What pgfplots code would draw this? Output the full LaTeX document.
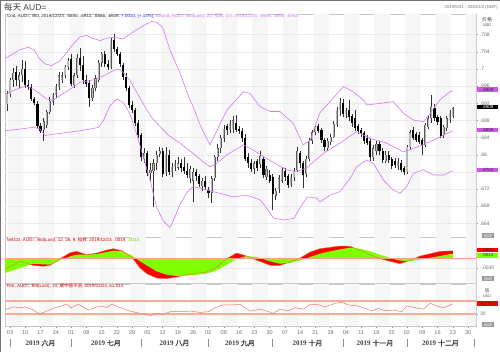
\documentclass[border=0pt]{standalone}
\usepackage{fontspec}
\setmainfont{Liberation Sans}
\newfontfamily\cjk{Noto Sans CJK SC}
\newfontfamily\cjkb[FakeBold=1.5]{Noto Sans CJK SC}
\newfontfamily\serif{Liberation Serif}
\usepackage{pgfplots}
\usepackage{pgfplotstable}
\pgfplotsset{compat=1.18}

\definecolor{bbc}{RGB}{214,120,250}
\definecolor{bbbox}{RGB}{210,80,240}
\definecolor{upg}{RGB}{185,185,185}
\definecolor{mred}{RGB}{255,0,0}
\definecolor{mgreen}{RGB}{128,255,0}
\definecolor{morange}{RGB}{225,110,60}
\definecolor{zeroc}{RGB}{250,160,140}
\definecolor{rsil}{RGB}{240,120,100}
\definecolor{rsih}{RGB}{255,170,150}
\definecolor{bandg}{RGB}{246,246,246}
\definecolor{gridg}{RGB}{234,234,234}
\definecolor{txtg}{RGB}{110,110,110}

% alternate two-week background bands (x in trading-day index, f = 0 bottom / 1 top)
\pgfplotstableread{
x f
-0.6 0
4.4 0
4.4 1
-0.6 1
nan nan
9.4 0
14.4 0
14.4 1
9.4 1
nan nan
19.4 0
24.4 0
24.4 1
19.4 1
nan nan
29.4 0
34.4 0
34.4 1
29.4 1
nan nan
39.4 0
44.4 0
44.4 1
39.4 1
nan nan
49.4 0
54.4 0
54.4 1
49.4 1
nan nan
59.4 0
64.4 0
64.4 1
59.4 1
nan nan
69.4 0
74.4 0
74.4 1
69.4 1
nan nan
79.4 0
84.4 0
84.4 1
79.4 1
nan nan
89.4 0
94.4 0
94.4 1
89.4 1
nan nan
99.4 0
104.4 0
104.4 1
99.4 1
nan nan
109.4 0
114.4 0
114.4 1
109.4 1
nan nan
119.4 0
124.4 0
124.4 1
119.4 1
nan nan
129.4 0
134.4 0
134.4 1
129.4 1
nan nan
139.4 0
144.4 0
144.4 1
139.4 1
nan nan
149.4 0
152.6 0
152.6 1
149.4 1
}\bands

\pgfplotstableread{
t o h l c
-1 .6918 .6948 .6902 .6942
0 .6942 .6980 .6935 .6975
1 .6975 .7002 .6958 .6990
2 .6992 .7006 .6960 .6975
3 .6975 .6992 .6955 .6985
4 .6985 .7021 .6970 .7000
5 .7000 .7018 .6955 .6962
6 .6962 .6975 .6950 .6958
7 .6958 .6965 .6925 .6930
8 .6930 .6935 .6915 .6920
9 .6918 .6925 .6862 .6868
10 .6868 .6875 .6850 .6855
11 .6858 .6885 .6832 .6878
12 .6870 .6905 .6862 .6900
13 .6900 .6935 .6895 .6925
14 .6922 .6945 .6915 .6940
15 .6940 .6965 .6932 .6960
16 .6958 .6992 .6950 .6985
17 .6975 .6992 .6968 .6985
18 .6985 .7010 .6978 .7005
19 .7005 .7025 .6998 .7018
20 .7023 .7035 .6960 .6965
21 .6962 .6990 .6955 .6985
22 .6985 .7035 .6980 .7025
23 .7025 .7048 .6995 .7010
24 .7010 .7030 .6965 .6975
25 .6975 .6985 .6958 .6965
26 .6968 .6975 .6912 .6932
27 .6932 .6962 .6925 .6955
28 .6955 .6985 .6948 .6978
29 .6975 .7022 .6970 .7015
30 .7015 .7040 .7005 .7035
31 .7035 .7042 .7005 .7012
32 .7012 .7020 .6998 .7005
33 .7005 .7072 .7000 .7066
34 .7068 .7082 .7040 .7047
35 .7047 .7052 .7030 .7035
36 .7035 .7040 .7005 .7012
37 .7010 .7015 .6975 .6982
38 .6982 .6990 .6948 .6955
39 .6955 .6960 .6908 .6915
40 .6915 .6925 .6898 .6905
41 .6905 .6910 .6868 .6875
42 .6875 .6882 .6838 .6845
43 .6845 .6850 .6785 .6795
44 .6790 .6815 .6780 .6805
45 .6805 .6810 .6750 .6758
46 .6758 .6780 .6740 .6765
47 .6762 .6790 .6678 .6780
48 .6780 .6810 .6765 .6800
49 .6802 .6818 .6795 .6810
50 .6808 .6815 .6748 .6755
51 .6757 .6818 .6750 .6800
52 .6800 .6812 .6752 .6760
53 .6760 .6782 .6748 .6772
54 .6772 .6788 .6762 .6778
55 .6770 .6795 .6765 .6780
56 .6780 .6790 .6760 .6770
57 .6772 .6795 .6755 .6762
58 .6762 .6780 .6745 .6752
59 .6745 .6775 .6735 .6768
60 .6740 .6770 .6690 .6760
61 .6760 .6768 .6738 .6750
62 .6750 .6755 .6725 .6733
63 .6727 .6745 .6715 .6740
64 .6740 .6750 .6718 .6725
65 .6718 .6725 .6700 .6710
66 .6712 .6750 .6688 .6745
67 .6745 .6800 .6740 .6795
68 .6795 .6825 .6785 .6815
69 .6815 .6845 .6805 .6840
70 .6840 .6870 .6830 .6860
71 .6866 .6872 .6845 .6858
72 .6858 .6880 .6850 .6875
73 .6860 .6890 .6850 .6880
74 .6873 .6893 .6852 .6858
75 .6860 .6868 .6848 .6855
76 .6855 .6862 .6830 .6838
77 .6840 .6848 .6785 .6790
78 .6795 .6805 .6770 .6780
79 .6780 .6790 .6760 .6768
80 .6768 .6785 .6755 .6780
81 .6785 .6790 .6762 .6770
82 .6778 .6808 .6770 .6798
83 .6790 .6795 .6745 .6752
84 .6748 .6775 .6742 .6768
85 .6752 .6765 .6735 .6740
86 .6748 .6755 .6672 .6708
87 .6705 .6722 .6695 .6715
88 .6718 .6752 .6712 .6745
89 .6740 .6772 .6735 .6765
90 .6762 .6770 .6740 .6748
91 .6750 .6755 .6722 .6730
92 .6730 .6755 .6725 .6748
93 .6748 .6770 .6740 .6763
94 .6765 .6818 .6760 .6810
95 .6805 .6810 .6770 .6780
96 .6780 .6785 .6722 .6752
97 .6755 .6798 .6748 .6790
98 .6790 .6838 .6785 .6833
99 .6833 .6858 .6825 .6852
100 .6852 .6870 .6845 .6865
101 .6866 .6872 .6850 .6855
102 .6858 .6862 .6828 .6835
103 .6835 .6840 .6808 .6818
104 .6815 .6838 .6808 .6832
105 .6830 .6848 .6822 .6842
106 .6842 .6878 .6838 .6872
107 .6870 .6912 .6865 .6905
108 .6905 .6932 .6890 .6920
109 .6920 .6930 .6888 .6895
110 .6895 .6910 .6885 .6905
111 .6905 .6928 .6878 .6888
112 .6890 .6895 .6865 .6875
113 .6885 .6905 .6855 .6862
114 .6868 .6872 .6848 .6855
115 .6858 .6862 .6842 .6850
116 .6850 .6855 .6826 .6832
117 .6838 .6845 .6822 .6828
118 .6833 .6838 .6785 .6795
119 .6795 .6822 .6785 .6815
120 .6808 .6832 .6800 .6826
121 .6826 .6832 .6800 .6808
122 .6808 .6815 .6782 .6788
123 .6786 .6808 .6780 .6800
124 .6800 .6808 .6780 .6787
125 .6790 .6795 .6768 .6775
126 .6785 .6792 .6770 .6776
127 .6772 .6792 .6765 .6786
128 .6780 .6788 .6760 .6765
129 .6770 .6775 .6752 .6760
130 .6760 .6822 .6755 .6818
131 .6818 .6858 .6812 .6852
132 .6858 .6865 .6835 .6840
133 .6848 .6852 .6830 .6835
134 .6845 .6852 .6825 .6830
135 .6835 .6840 .6800 .6822
136 .6822 .6875 .6818 .6870
137 .6865 .6890 .6860 .6885
138 .6885 .6939 .6875 .6912
139 .6910 .6918 .6878 .6885
140 .6888 .6893 .6870 .6877
141 .6885 .6890 .6838 .6843
142 .6845 .6870 .6838 .6865
143 .6862 .6890 .6855 .6885
144 .6880 .6905 .6875 .6898
145 .6890 .6912 .6886 .6908
}\candles

\pgfplotstableread{
t v
-1.6 .7025
1 .7035
3 .7044
6 .7051
8 .7043
9.5 .7025
11.5 .7012
13.6 .7008
16.4 .7019
18.6 .7039
20.2 .7054
22.9 .7075
25 .7078
27 .7072
29.5 .7066
31.7 .7072
34 .7074
37 .7070
40 .7085
43.7 .7101
46.4 .7111
48 .7109
50 .7097
52.4 .7044
55.7 .6990
58.9 .6928
60 .6912
62.5 .6865
65.5 .6823
68 .6860
71 .6904
76.4 .6947
78.6 .6943
81.9 .6912
85.2 .6901
88.4 .6901
92.8 .6873
96 .6823
98.3 .6834
101.5 .6898
104.8 .6924
109.2 .6959
112.4 .6947
115.7 .6928
116.8 .6916
121.2 .6920
125.5 .6924
128.8 .6897
132.1 .6881
135.4 .6877
137.6 .6897
140.8 .6928
144.1 .6947
145 .6949
}\bbu

\pgfplotstableread{
t v
-1.6 .6942
2.2 .6953
5.5 .6961
7.6 .6953
9.8 .6942
12 .6930
14.2 .6928
16.4 .6938
19.7 .6953
22.9 .6969
26.2 .6973
28.4 .6977
30.6 .6984
33.8 .6996
35.5 .7000
37.1 .6992
39.3 .6973
41.5 .6946
43.7 .6918
46.4 .6887
49.1 .6866
52 .6845
55.7 .6827
60 .6803
63 .6785
65.5 .6772
67.7 .6780
71 .6800
76.4 .6823
79.7 .6811
83 .6796
86.8 .6780
90.6 .6765
93.9 .6761
97.2 .6770
100.4 .6790
103 .6805
108 .6827
113.5 .6854
118 .6838
123.4 .6827
128.8 .6807
131 .6812
134.3 .6821
138.6 .6834
142 .6846
145 .6856
}\bbm

\pgfplotstableread{
t v
-1.6 .6856
3.3 .6860
7.6 .6864
9.8 .6860
11.5 .6845
14.2 .6848
18.6 .6852
22.9 .6856
26.2 .6860
29 .6864
30.6 .6880
32.8 .6915
35 .6930
37.1 .6922
39.3 .6895
41.5 .6848
43.7 .6794
45.9 .6740
48 .6678
50.2 .6646
52.4 .6630
54 .6655
55.7 .6685
57.9 .6712
60 .6726
64.4 .6718
68.8 .6710
73.1 .6702
77.5 .6706
81.9 .6695
84.1 .6675
86.3 .6652
89.7 .6648
93 .6652
95.2 .6679
97.4 .6702
100.4 .6699
101.5 .6690
104.8 .6706
108 .6714
111.4 .6745
113.5 .6772
116.8 .6788
119 .6780
122.3 .6741
125.5 .6718
127.7 .6710
129.9 .6726
132.1 .6757
135.4 .6765
138.6 .6753
142 .6753
145 .6763
}\bbl

\pgfplotstableread{
t m s
-1.6 -.0033 -.0044
3.3 -.00098 -.00294
7.6 -.00216 -.00167
10.9 -.00245 -.00186
13.1 -.00216 -.00196
16.4 -.00020 -.00069
19.7 .00157 .00049
21.8 .00196 .00098
25.1 .00098 .00098
28.4 .00147 .00118
31.7 .00235 .00176
33.8 .00275 .00216
36.6 .00216 .00206
39.8 .00029 .00078
42.6 -.00294 -.00098
44.8 -.00461 -.00216
48 -.00588 -.00392
51.3 -.00608 -.00490
54.6 -.00559 -.00529
57.9 -.00490 -.00520
61.1 -.00451 -.00490
64.4 -.00412 -.00461
67.7 -.00265 -.00363
71 -.00020 -.00196
74.2 .00147 -.00020
77.5 .00059 .00059
80.9 -.00069 .00029
85.2 -.00216 -.00098
88.4 -.00216 -.00167
91.7 -.00118 -.00147
95 .00000 -.00069
98.3 .00176 .00029
101.5 .00275 .00127
104.8 .00314 .00196
108.1 .00353 .00255
111.4 .00343 .00304
114.6 .00225 .00275
117.9 .00098 .00196
121.2 -.00020 .00098
124.5 -.00098 .00000
127.7 -.00167 -.00078
131 -.00069 -.00088
134.3 .00059 -.00049
137.6 .00127 .00010
140.9 .00196 .00059
145 .0021 .0013
}\macd

\pgfplotstableread{
t r
-1.6 46
-1.1 45
1.1 52
3.3 49
4.9 52
7.1 45
9.8 30
12 39
14.7 49
16.9 55
18.6 61
19.9 49
22.4 60
25.6 42
29.5 55
31.7 50
33.3 60
36 50
39.3 39
42.6 32
45.9 24
48 32
50.2 29
52.4 37
55.7 37
59 39
62.2 35
65 37
67.1 49
69.9 58
73.1 58
75.3 60
78.6 39
81.9 45
84.1 39
86.2 32
88.4 45
91.1 40
93.4 49
96.1 45
98.3 60
100.4 60
103.2 52
106.5 63
108.6 66
110.8 58
113.6 55
116.3 47
118.5 39
120.6 47
122.8 40
125.5 42
128.3 37
129.9 55
132.7 49
135.4 45
137.6 63
139.8 55
142 49
145 61.3
}\rsi

\pgfplotsset{
  panel/.style={scale only axis, width=471bp, xmin=-1.64, xmax=152.6,
    anchor=south west,
    axis line style={draw=black!22, line width=0.5bp},
    xtick=\empty, ytick pos=right, yticklabel pos=right,
    tick align=outside, major tick length=2bp,
    tick style={black!45, line width=0.4bp},
    yticklabel style={font=\fontsize{5}{5}\selectfont, text=txtg, xshift=-1.5bp},
    scaled y ticks=false, clip=true,
    /pgf/number format/assume math mode=true},
  candle/.style={no marks, forget plot, unbounded coords=discard},
  bandplot/.style={fill=bandg, draw=none, forget plot, unbounded coords=jump},
  hgrid/.style={gridg, line width=0.4bp, forget plot, no marks},
  bbline/.style={bbc, line width=0.6bp, no marks, forget plot}
}

\begin{document}
\begin{tikzpicture}
\useasboundingbox (0bp,0bp) rectangle (500bp,352bp);
\fill[white] (0bp,0bp) rectangle (500bp,352bp);

% ---------- main price panel ----------
\begin{axis}[panel, at={(5bp,115bp)}, height=223bp, ymin=0.66084, ymax=0.71282,
  ytick={0.664,0.668,0.672,0.68,0.684,0.688,0.692,0.696,0.7,0.704,0.708},
  yticklabels={.664,.668,.672,.68,.684,.688,.692,.696,.7,.704,.708}]
\addplot[bandplot] table[x=x, y expr={\thisrow{f}*0.05198+0.66084}] {\bands};
\pgfplotsinvokeforeach{0.664,0.668,0.672,0.676,0.68,0.684,0.688,0.692,0.696,0.7,0.704,0.708}{
  \addplot[hgrid] coordinates {(-1.64,#1) (152.6,#1)};}
% wicks
\addplot[candle, black!80, line width=0.45bp,
  quiver={u=0, v=\thisrow{h}-\thisrow{l}}] table[x=t, y=l] {\candles};
% down bodies
\addplot[candle, black, line width=2.1bp,
  quiver={u=0, v={max(\thisrow{o}-\thisrow{c},0.0001)}}]
  table[x=t, y expr={\thisrow{c}<\thisrow{o} ? \thisrow{c} : nan}] {\candles};
% up bodies (outline + fill)
\addplot[candle, black!65, line width=2.1bp,
  quiver={u=0, v={max(\thisrow{c}-\thisrow{o},0.0001)}}]
  table[x=t, y expr={\thisrow{c}>=\thisrow{o} ? \thisrow{o} : nan}] {\candles};
\addplot[candle, upg, line width=1.1bp,
  quiver={u=0, v={max(\thisrow{c}-\thisrow{o}-0.00008,0.00002)}}]
  table[x=t, y expr={\thisrow{c}>=\thisrow{o} ? \thisrow{o}+0.00004 : nan}] {\candles};
\addplot[bbline] table[x=t,y=v] {\bbu};
\addplot[bbline] table[x=t,y=v] {\bbm};
\addplot[bbline] table[x=t,y=v] {\bbl};
\end{axis}

% ---------- MACD panel ----------
\begin{axis}[panel, at={(5bp,69bp)}, height=46bp, ymin=-0.00735, ymax=0.00618,
  ytick={-0.003}, yticklabels={-.0030}]
\addplot[bandplot] table[x=x, y expr={\thisrow{f}*0.01353-0.00735}] {\bands};
\addplot[hgrid] coordinates {(-1.64,-0.003) (152.6,-0.003)};
\addplot[fill=mred, draw=none, forget plot] table[x=t,y=m] {\macd} \closedcycle;
\addplot[fill=mgreen, draw=none, forget plot] table[x=t,y=s] {\macd} \closedcycle;
\addplot[zeroc, line width=1bp, no marks] coordinates {(-1.64,0) (152.6,0)};
\addplot[morange, line width=0.4bp, no marks] table[x=t,y=m] {\macd};
\end{axis}

% ---------- RSI panel ----------
\begin{axis}[panel, at={(5bp,26bp)}, height=42bp, ymin=-6.9, ymax=122.3,
  ytick={30}, yticklabels={30},
  xtick={0,5,...,150}, xtick pos=bottom,
  xticklabels={03,10,17,24,01,08,15,22,29,05,12,19,26,02,09,16,23,30,07,14,21,28,04,11,18,25,02,09,16,23,30},
  xticklabel style={font=\fontsize{5.5}{5.5}\selectfont, text=txtg, yshift=1bp}]
\addplot[bandplot] table[x=x, y expr={\thisrow{f}*129.2-6.9}] {\bands};
\addplot[rsih, line width=1.2bp, no marks] coordinates {(-1.64,70) (152.6,70)};
\addplot[rsih, line width=1.2bp, no marks] coordinates {(-1.64,30) (152.6,30)};
\addplot[rsil, line width=0.5bp, no marks] table[x=t,y=r] {\rsi};
\end{axis}

% ---------- frame and texts ----------
\begin{scope}[x=1bp,y=1bp]
\draw[black!55, line width=1.5bp] (0.75,0) -- (0.75,351.25) -- (500,351.25);
\node[anchor=west, font=\fontsize{8.5}{9}\selectfont, text=black!75, inner sep=0] at (4,344.5) {{\cjk 每天} AUD=};
\node[anchor=east, font=\fontsize{4.3}{5}\selectfont, text=txtg, inner sep=0] at (498,345) {2019/5/31 - 2020/1/2 (GMT)};

\node[anchor=west, font=\fontsize{4.5}{5}\selectfont, inner sep=0] at (7,335.5)
 {\color{black!80}Cnd, AUD=, Bid, 2019/12/23, .6890, .6912, .6886, .6908, \color{blue!80}+.0010, (+.14\%), \color{bbc}BBand, AUD=, Bid(Last), 20, {\cjk 指数}, 2.0, 2019/12/23, .6949, .6856, .6763};
\node[anchor=west, font=\fontsize{4.5}{5}\selectfont, inner sep=0, text=red!85!black] at (7,111.5)
 {MACD, AUD=, Bid(Last), 12, 26, 9, {\cjk 指数}, 2019/12/23, .0019, \color{mgreen!80!black}.0013};
\node[anchor=west, font=\fontsize{4.5}{5}\selectfont, inner sep=0, text=red!85!black] at (7,65.5)
 {RSI, AUD=, Bid(Last), 14, {\cjk 威尔德平滑}, 2019/12/23, 61.314};

% right axis captions
\node[font=\fontsize{5}{5}\selectfont, text=black!70, inner sep=0] at (487,332.5) {\cjk 价格};
\node[font=\fontsize{4}{4}\selectfont, text=black!70, inner sep=0] at (487,327) {USD};
\node[font=\fontsize{4.5}{5}\selectfont, text=black!70, inner sep=0] at (487,61) {\cjk 值};
\node[font=\fontsize{3.8}{4}\selectfont, text=black!70, inner sep=0] at (487,56) {USD};

% value boxes
\tikzset{vbox/.style={anchor=west, font=\fontsize{4.5}{5}\selectfont, inner sep=0.3bp, minimum width=21bp, minimum height=4.8bp}}
\node[vbox, fill=bbbox, text=black!80] at (477,262.5) {.6949};
\node[vbox, fill=black, text=white] at (477,245) {.6908};
\node[vbox, fill=bbbox, text=black!80] at (477,222) {.6856};
\node[vbox, fill=bbbox, text=black!80] at (477,182) {.6763};
\node[vbox, fill=mred, text=black!80] at (477,102) {.0019};
\node[vbox, fill=mgreen, text=black!80] at (477,96.8) {.0013};
\node[vbox, fill=mred, text=black!80] at (477,48.5) {61.314};
\tikzset{gbox/.style={anchor=west, font=\fontsize{4}{4}\selectfont, inner sep=0.4bp, minimum width=12bp, minimum height=4.6bp, fill=black!40, text=white}}
\node[gbox] at (482,116.5) {\cjk 自动};
\node[gbox] at (482,73.5) {\cjk 自动};
\node[gbox] at (482,27.5) {\cjk 自动};

% month row
\foreach \x/\m in {40.5/六月, 106/七月, 174.5/八月, 240/九月, 307.5/十月, 375/十一月, 440.5/十二月}
  \node[font=\fontsize{7}{7}\selectfont, text=black!75, inner sep=0] at (\x,9) {{\serif\bfseries 2019} {\cjkb \m}};
\foreach \x in {10,71,141.5,208.5,272.5,343,407,474}
  \draw[black!45, line width=0.6bp] (\x,5) -- (\x,13);
\end{scope}
\end{tikzpicture}
\end{document}
